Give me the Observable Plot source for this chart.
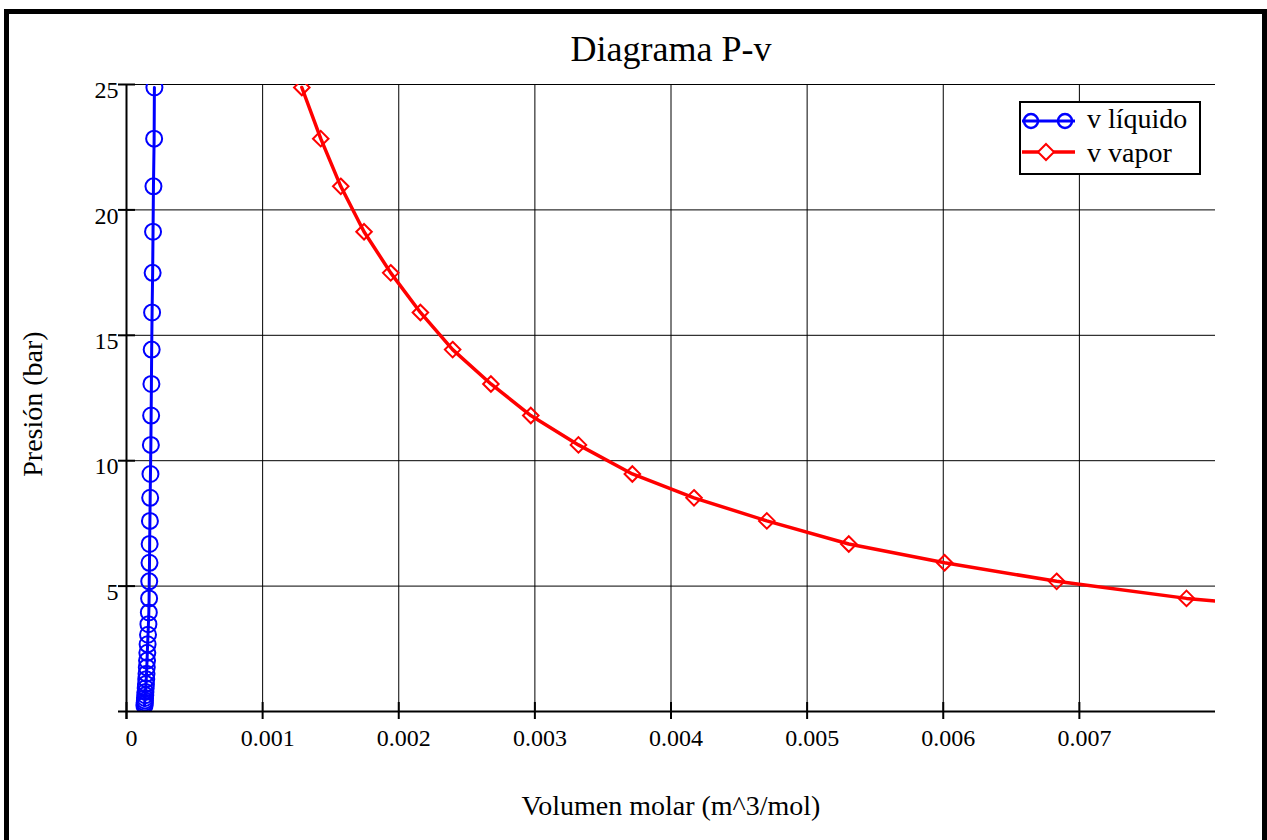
<!DOCTYPE html>
<html>
<head>
<meta charset="utf-8">
<script src="https://cdn.jsdelivr.net/npm/d3@7"></script>
<script src="https://cdn.jsdelivr.net/npm/@observablehq/plot@0.6"></script>
<style>
  html, body { margin: 0; padding: 0; background: #fff; }
  body { width: 1267px; height: 840px; overflow: hidden; position: relative; font-family: "Liberation Serif", serif; }
  #frame { position: absolute; left: 4px; top: 9px; width: 1253px; height: 900px; border: 5px solid #000; box-sizing: content-box; pointer-events: none; }
  #chart { position: absolute; left: 0; top: 0; }
  #legend { position: absolute; left: 1019px; top: 101px; }
</style>
</head>
<body>
<div id="chart"></div>
<div id="frame"></div>
<svg id="legend" width="182" height="74"></svg>
<script>
// Pressure (bar) levels
const P = [24.88, 22.84, 20.94, 19.13, 17.49, 15.91, 14.43, 13.06, 11.80, 10.63, 9.47, 8.52, 7.60, 6.68, 5.93, 5.19, 4.51,
           3.95, 3.48, 3.06, 2.68, 2.34, 2.03, 1.76, 1.51, 1.29, 1.10, 0.93, 0.78, 0.65, 0.54, 0.44, 0.36, 0.29, 0.23];
// Liquid molar volume (m^3/mol)
const vLiquido = [0.000205, 0.000203, 0.000198, 0.000195, 0.000192, 0.000188, 0.000185, 0.000183, 0.000181, 0.000179,
                  0.000176, 0.000174, 0.000172, 0.000170, 0.000169, 0.000167, 0.000166, 0.000164, 0.000161, 0.000158,
                  0.000155, 0.000153, 0.000151, 0.000149, 0.000147, 0.000145, 0.000143, 0.000141, 0.000139, 0.000138,
                  0.000136, 0.000135, 0.000134, 0.000133, 0.000132];
// Vapor molar volume (m^3/mol) — same pressure levels (the last one lies beyond the plotted range)
const vVapor = [0.001288, 0.001427, 0.001574, 0.001745, 0.001941, 0.002159, 0.002396, 0.002677, 0.002970, 0.003320,
                0.003716, 0.004169, 0.004704, 0.005306, 0.006010, 0.006833, 0.007787, 0.00890];

const xTicks = [0, 0.001, 0.002, 0.003, 0.004, 0.005, 0.006, 0.007];
const yTicks = [5, 10, 15, 20, 25];
const xDomain = [0, 0.008];
const yDomain = [0, 25];

const titleText = "Diagrama P-v";
const xLabel = "Volumen molar (m^3/mol)";
const yLabel = "Presión (bar)";
const seriesNames = ["v líquido", "v vapor"];
const blue = "#0000ff", red = "#ff0000";

const liquido = vLiquido.map((v, i) => ({v, P: P[i]}));
const vapor = vVapor.map((v, i) => ({v, P: P[i]}));

const font = "Liberation Serif";

const plot = Plot.plot({
  width: 1267,
  height: 840,
  marginLeft: 126,
  marginRight: 52,
  marginTop: 84,
  marginBottom: 129,
  style: {fontFamily: font, background: "transparent", overflow: "visible", color: "#000"},
  x: {domain: xDomain, label: null},
  y: {domain: yDomain, label: null},
  marks: [
    Plot.gridX({ticks: xTicks.slice(1), stroke: "#000", strokeOpacity: 1, strokeWidth: 1}),
    Plot.gridY({ticks: yTicks, stroke: "#000", strokeOpacity: 1, strokeWidth: 1}),
    Plot.line(liquido, {x: "v", y: "P", stroke: blue, strokeWidth: 3, clip: true}),
    Plot.dot(liquido, {x: "v", y: "P", r: 8, stroke: blue, strokeWidth: 2, fill: "none", clip: true}),
    Plot.line(vapor, {x: "v", y: "P", stroke: red, strokeWidth: 3.5, clip: true}),
    Plot.dot(vapor, {x: "v", y: "P", symbol: "diamond2", r: 7, stroke: red, strokeWidth: 2, fill: "none", clip: true}),
    Plot.ruleX([0], {strokeWidth: 2, stroke: "#000", insetBottom: -8}),
    Plot.ruleY([0], {strokeWidth: 2, stroke: "#000", insetLeft: -8}),
    Plot.ruleX(xTicks, {x: d => d, y1: 0, y2: 0, insetTop: -9, insetBottom: -8, stroke: "#000", strokeWidth: 2}),
    Plot.ruleY(yTicks, {y: d => d, x1: 0, x2: 0, insetLeft: -8, insetRight: -9, stroke: "#000", strokeWidth: 2}),
    Plot.axisX({ticks: xTicks, tickSize: 0, tickPadding: 17, fontSize: 24, dx: 5, tickFormat: d => String(d), fill: "#000"}),
    Plot.axisY({ticks: yTicks, tickSize: 0, tickPadding: 8, fontSize: 24, dy: 6, tickFormat: d => String(d), fill: "#000"})
  ]
});
document.getElementById("chart").appendChild(plot);

// Titles as real text
const svg = d3.select(plot);
svg.append("text").attr("x", 671).attr("y", 61).attr("text-anchor", "middle")
  .attr("font-family", font).attr("font-size", 36).attr("fill", "#000").text(titleText);
svg.append("text").attr("x", 671).attr("y", 815).attr("text-anchor", "middle")
  .attr("font-family", font).attr("font-size", 28).attr("fill", "#000").text(xLabel);
svg.append("text").attr("transform", "translate(42,404) rotate(-90)").attr("text-anchor", "middle")
  .attr("font-family", font).attr("font-size", 28).attr("fill", "#000").text(yLabel);

// Legend
const lg = d3.select("#legend");
lg.append("rect").attr("x", 1).attr("y", 1).attr("width", 180).attr("height", 72)
  .attr("fill", "#fff").attr("stroke", "#000").attr("stroke-width", 2);
lg.append("line").attr("x1", 3).attr("x2", 56).attr("y1", 20).attr("y2", 20).attr("stroke", blue).attr("stroke-width", 3);
[12, 46].forEach(cx => lg.append("circle").attr("cx", cx).attr("cy", 20).attr("r", 7)
  .attr("fill", "none").attr("stroke", blue).attr("stroke-width", 2.5));
lg.append("text").attr("x", 68).attr("y", 27).attr("font-family", font).attr("font-size", 28).attr("fill", "#000").text(seriesNames[0]);
lg.append("line").attr("x1", 3).attr("x2", 56).attr("y1", 51).attr("y2", 51).attr("stroke", red).attr("stroke-width", 3.5);
lg.append("path").attr("d", "M27,43L35,51L27,59L19,51Z").attr("fill", "#fff").attr("stroke", red).attr("stroke-width", 2);
lg.append("text").attr("x", 68).attr("y", 61).attr("font-family", font).attr("font-size", 28).attr("fill", "#000").text(seriesNames[1]);
</script>
</body>
</html>
